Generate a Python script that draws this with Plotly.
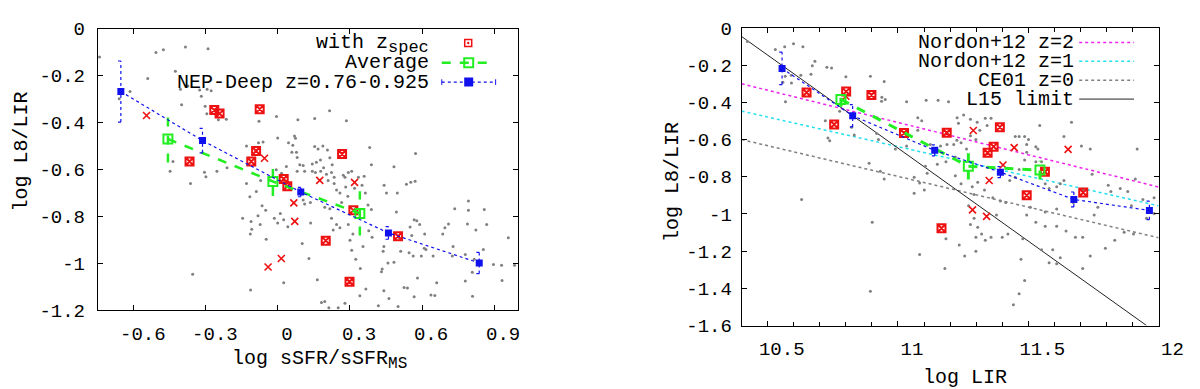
import plotly.graph_objects as go

FONT = "'Liberation Mono', 'Courier New', 'DejaVu Sans Mono', monospace"
W, H = 1200, 389

# ---- left panel: log L8/LIR vs log sSFR/sSFR_MS ----
l_xticks = [-0.6, -0.3, 0, 0.3, 0.6, 0.9]
l_xtext = ["-0.6", "-0.3", "0", "0.3", "0.6", "0.9"]
l_yticks = [0, -0.2, -0.4, -0.6, -0.8, -1.0, -1.2]
l_ytext = ["0", "-0.2", "-0.4", "-0.6", "-0.8", "-1", "-1.2"]

l_grey_x = [-0.743, -0.661, -0.616, -0.542, -0.508, -0.477, -0.427, -0.406, -0.375, -0.401,
            -0.449, -0.437, -0.364, -0.355, -0.385, -0.291, -0.326, -0.295, -0.278, -0.319,
            -0.303, -0.296, -0.248, -0.215, -0.254, -0.306, -0.300, -0.212, -0.147, -0.131,
            -0.115, -0.109, -0.114, -0.131, -0.100, -0.079, -0.062, -0.081, -0.006, -0.001,
            0.044, 0.062, 0.069, 0.073, 0.083, 0.058, 0.077, 0.080, 0.091, 0.105,
            0.111, 0.080, 0.035, 0.015, -0.007, -0.036, -0.072, -0.117, -0.090, -0.066,
            -0.051, -0.083, -0.074, -0.112, -0.049, -0.015, -0.001, 0.010, 0.024, 0.041,
            0.105, 0.111, 0.136, 0.101, 0.129, 0.024, 0.164, 0.195, 0.181, 0.135,
            0.153, 0.215, 0.285, 0.153, 0.167, 0.187, 0.206, 0.216, 0.226, 0.190,
            0.177, 0.160, 0.143, 0.143, 0.156, 0.178, 0.202, 0.209, 0.223, 0.234,
            0.234, 0.244, 0.258, 0.265, 0.272, 0.279, 0.282, 0.291, 0.293, 0.307,
            0.319, 0.335, 0.350, 0.364, 0.359, 0.195, 0.216, 0.223, 0.244, 0.230,
            0.258, 0.293, 0.312, 0.300, 0.307, 0.324, 0.343, 0.366, 0.341, 0.251,
            0.279, 0.212, 0.354, 0.378, 0.392, 0.389, 0.382, 0.389, 0.375, 0.442,
            0.452, 0.483, 0.493, 0.497, 0.535, 0.553, 0.573, 0.571, 0.504, 0.550,
            0.557, 0.567, 0.578, 0.590, 0.609, 0.616, 0.646, 0.597, 0.546, 0.563,
            0.483, 0.441, 0.438, 0.434, 0.431, 0.458, 0.525, 0.539, 0.567, 0.581,
            0.637, 0.653, 0.661, 0.686, 0.695, 0.611, 0.500, 0.418, 0.462, 0.441,
            0.511, 0.736, 0.793, 0.793, 0.859, 0.869, 0.824, 0.789, 0.710, 0.726,
            0.780, 0.855, 0.817, 0.897, 0.931, 0.959, 0.985, 0.933, 0.780, 0.809,
            0.810, 0.729]
l_grey_y = [-0.121, -0.299, -0.268, -0.212, -0.102, -0.090, -0.182, -0.258, -0.244, -0.324,
            -0.607, -0.566, -0.660, -1.046, -0.078, -0.086, -0.261, -0.258, -0.265, -0.288,
            -0.331, -0.363, -0.388, -0.386, -0.607, -0.612, -0.631, -0.593, -0.808, -0.660,
            -0.875, -0.854, -1.113, -0.500, -0.506, -0.395, -0.483, -0.486, -0.374, -0.466,
            -0.486, -0.497, -0.457, -0.467, -0.388, -0.526, -0.526, -0.549, -0.580, -0.583,
            -0.607, -0.607, -0.587, -0.616, -0.601, -0.633, -0.647, -0.716, -0.694, -0.754,
            -0.774, -0.797, -0.834, -0.821, -0.897, -0.808, -0.828, -0.787, -0.814, -0.844,
            -0.730, -0.747, -0.828, -0.915, -0.979, -1.082, -1.069, -1.162, -1.166, -0.741,
            -0.383, -0.350, -0.392, -0.502, -0.513, -0.500, -0.517, -0.550, -0.580, -0.593,
            -0.560, -0.569, -0.577, -0.607, -0.613, -0.607, -0.620, -0.647, -0.613, -0.633,
            -0.660, -0.687, -0.700, -0.741, -0.625, -0.633, -0.674, -0.714, -0.613, -0.607,
            -0.680, -0.633, -0.667, -0.700, -0.629, -0.761, -0.767, -0.808, -0.834, -0.858,
            -0.848, -0.834, -0.875, -0.901, -0.944, -0.982, -1.022, -1.109, -1.138, -1.189,
            -1.169, -1.189, -0.928, -0.861, -0.888, -0.770, -0.506, -0.580, -0.751, -0.667,
            -0.700, -0.588, -0.781, -0.700, -0.663, -0.654, -0.532, -0.650, -0.888, -0.845,
            -0.881, -0.814, -0.818, -0.834, -0.935, -0.941, -0.968, -0.968, -0.955, -0.968,
            -0.995, -0.928, -0.948, -1.024, -1.035, -0.998, -1.102, -1.105, -1.142, -1.062,
            -1.134, -1.137, -1.082, -0.875, -0.848, -0.875, -1.183, -1.180, -1.149, -1.116,
            -0.948, -0.767, -0.734, -0.774, -0.770, -0.834, -0.858, -0.832, -0.832, -0.968,
            -0.962, -0.941, -0.982, -1.004, -1.008, -0.891, -1.008, -1.073, -1.075, -1.038,
            -1.140, -0.928]

l_zspec_x = [-0.265, -0.243, -0.076, -0.368, -0.091, -0.111, 0.267, 0.024, 0.039, 0.314, 0.199, 0.500, 0.298]
l_zspec_y = [-0.347, -0.362, -0.343, -0.566, -0.521, -0.566, -0.534, -0.640, -0.671, -0.774, -0.903, -0.884, -1.078]
l_cross_x = [-0.547, -0.056, 0.174, 0.319, 0.066, 0.070, 0.014, -0.041]
l_cross_y = [-0.370, -0.552, -0.646, -0.655, -0.742, -0.821, -0.979, -1.015]

l_avg_x = [-0.458, -0.021, 0.341]
l_avg_y = [-0.470, -0.651, -0.787]
l_avg_e = [0.100, 0.062, 0.094]
l_nep_x = [-0.654, -0.314, 0.095, 0.460, 0.838]
l_nep_y = [-0.268, -0.477, -0.696, -0.870, -0.998]
l_nep_e = [0.130, 0.052, 0.020, 0.027, 0.045]

# ---- right panel: log L8/LIR vs log LIR ----
r_xticks = [10.5, 11, 11.5, 12]
r_xtext = ["10.5", "11", "11.5", "12"]
r_yticks = [0, -0.2, -0.4, -0.6, -0.8, -1.0, -1.2, -1.4, -1.6]
r_ytext = ["0", "-0.2", "-0.4", "-0.6", "-0.8", "-1", "-1.2", "-1.4", "-1.6"]

r_grey_x = [10.422, 10.529, 10.565, 10.599, 10.635, 10.671, 10.681, 10.666, 10.590, 10.567,
            10.627, 10.591, 10.558, 10.568, 10.727, 10.745, 10.800, 10.894, 10.947, 10.938,
            10.951, 10.937, 11.033, 11.108, 11.154, 11.194, 10.731, 10.738, 10.721, 10.776,
            10.822, 10.832, 10.918, 10.925, 10.990, 11.033, 11.076, 11.091, 11.076, 11.124,
            11.163, 11.188, 11.214, 11.226, 11.227, 11.252, 11.232, 11.278, 11.304, 11.335,
            11.357, 11.342, 11.314, 11.278, 11.299, 11.242, 11.263, 11.220, 11.184, 11.151,
            11.105, 11.112, 11.083, 11.101, 11.062, 11.062, 10.947, 10.889, 10.932, 11.220,
            11.242, 11.285, 11.306, 11.332, 11.364, 11.292, 11.271, 11.292, 11.278, 11.306,
            11.321, 11.299, 11.335, 11.235, 11.256, 11.083, 11.180, 11.184, 11.378, 11.393,
            11.414, 11.429, 11.450, 11.465, 11.486, 11.494, 11.450, 11.465, 11.486, 11.501,
            11.529, 11.494, 11.537, 11.544, 11.529, 11.551, 11.565, 11.580, 11.609, 11.623,
            11.637, 11.637, 11.666, 11.704, 11.738, 11.745, 11.709, 11.673, 11.609, 11.565,
            11.508, 11.494, 11.565, 11.609, 11.645, 11.681, 11.709, 11.767, 11.753, 11.807,
            11.817, 11.853, 11.882, 11.911, 11.918, 11.983, 11.983, 11.954, 11.940, 11.896,
            11.832, 11.796, 11.868, 11.904, 11.738, 11.709, 11.609, 11.580, 11.594, 11.551,
            11.479, 11.422, 11.465, 11.486, 11.443, 11.400, 11.357, 10.630, 10.901, 10.894,
            11.472, 11.623, 11.529, 11.299]
r_grey_y = [-0.073, -0.115, -0.101, -0.085, -0.101, -0.203, -0.178, -0.249, -0.254, -0.259,
            -0.254, -0.296, -0.291, -0.397, -0.211, -0.215, -0.262, -0.259, -0.288, -0.372,
            -0.384, -0.394, -0.397, -0.389, -0.389, -0.397, -0.592, -0.606, -0.499, -0.448,
            -0.533, -0.575, -0.567, -0.600, -0.651, -0.634, -0.482, -0.499, -0.550, -0.626,
            -0.634, -0.626, -0.626, -0.604, -0.482, -0.468, -0.512, -0.490, -0.507, -0.485,
            -0.485, -0.524, -0.550, -0.580, -0.600, -0.617, -0.651, -0.693, -0.719, -0.732,
            -0.744, -0.781, -0.834, -0.871, -0.888, -0.803, -0.812, -0.727, -0.770, -0.795,
            -0.837, -0.854, -0.829, -0.871, -0.913, -0.896, -0.956, -1.023, -1.057, -1.071,
            -1.108, -1.125, -1.142, -1.167, -1.226, -1.218, -1.294, -1.133, -1.006, -0.930,
            -0.939, -0.820, -0.803, -0.761, -0.710, -0.668, -0.584, -0.584, -0.584, -0.600,
            -0.638, -0.626, -0.651, -0.524, -0.719, -0.719, -0.837, -0.863, -0.854, -0.837,
            -0.820, -0.584, -0.507, -0.634, -0.651, -0.786, -0.871, -0.939, -0.973, -0.989,
            -0.964, -1.006, -1.066, -1.066, -1.091, -1.125, -1.125, -0.964, -1.006, -0.846,
            -0.879, -0.863, -0.879, -0.812, -0.651, -0.913, -0.998, -1.023, -0.922, -0.956,
            -1.142, -1.184, -1.099, -1.108, -1.226, -1.294, -1.268, -1.263, -1.192, -1.192,
            -1.133, -1.108, -1.429, -1.358, -1.488, -1.125, -1.125, -0.922, -1.044, -1.416,
            -1.243, -1.235, -1.044, -1.201]

r_zspec_x = [10.649, 10.801, 10.898, 10.755, 11.023, 11.187, 11.391, 11.367, 11.344, 11.564, 11.494, 11.711, 11.167]
r_zspec_y = [-0.347, -0.342, -0.360, -0.519, -0.565, -0.563, -0.533, -0.638, -0.671, -0.773, -0.900, -0.885, -1.077]
r_cross_x = [10.800, 11.289, 11.446, 11.653, 11.403, 11.350, 11.286, 11.340]
r_cross_y = [-0.367, -0.551, -0.643, -0.653, -0.737, -0.820, -0.978, -1.013]

r_avg_x = [10.781, 11.270, 11.545]
r_avg_y = [-0.384, -0.744, -0.764]
r_avg_e = [0.040, 0.070, 0.050]
r_nep_x = [10.555, 10.826, 11.141, 11.393, 11.675, 11.965]
r_nep_y = [-0.217, -0.472, -0.658, -0.775, -0.922, -0.981]
r_nep_e = [0.087, 0.060, 0.030, 0.030, 0.040, 0.050]

# relations drawn across the right panel
rel_x = [10.4, 12.0]
nordon2_y = [-0.300, -0.855]
nordon1_y = [-0.447, -0.956]
ce01_y = [-0.600, -1.128]
l15_x = [10.4, 11.954]
l15_y = [-0.046, -1.600]

RED = "#ee1111"
GREEN = "#22ee22"
BLUE = "#1111ee"
GREY = "#808080"

# plot frames in pixels: left, top, right, bottom
L_BOX = (91.7, 12.3, 521.0, 311.0)
R_BOX = (749.3, 11.7, 1175.0, 327.0)


def dom(box):
    l, t, r, b = box
    return [l / W, r / W], [(H - b) / H, (H - t) / H]


def bars(x, y, e, cap=0.0):
    xs, ys = [], []
    for xi, yi, ei in zip(x, y, e):
        xs += [xi, xi, None]
        ys += [yi - ei, yi + ei, None]
        if cap:
            for yy in (yi - ei, yi + ei):
                xs += [xi - cap, xi + cap, None]
                ys += [yy, yy, None]
    return xs, ys


fig = go.Figure()


def panel(xa, ya, grey_x, grey_y, zx, zy, cx, cy, ax, ay, ae, nx, ny, ne, cap, avg_w):
    fig.add_trace(go.Scatter(x=grey_x, y=grey_y, mode="markers", xaxis=xa, yaxis=ya,
                             marker=dict(size=3, color=GREY)))
    fig.add_trace(go.Scatter(x=cx, y=cy, mode="markers", xaxis=xa, yaxis=ya,
                             marker=dict(symbol="x-thin-open", size=7, color=RED,
                                         line=dict(width=1.6, color=RED))))
    fig.add_trace(go.Scatter(x=zx, y=zy, mode="markers", xaxis=xa, yaxis=ya,
                             marker=dict(symbol="square-x-open", size=8, color=RED,
                                         line=dict(width=2, color=RED))))
    ex, ey = bars(ax, ay, ae)
    fig.add_trace(go.Scatter(x=ex, y=ey, mode="lines", xaxis=xa, yaxis=ya,
                             line=dict(color=GREEN, width=avg_w, dash="dash")))
    fig.add_trace(go.Scatter(x=ax, y=ay, mode="lines+markers", xaxis=xa, yaxis=ya,
                             line=dict(color=GREEN, width=avg_w, dash="dash"),
                             marker=dict(symbol="square-open", size=9, color=GREEN,
                                         line=dict(width=2, color=GREEN))))
    ex, ey = bars(nx, ny, ne, cap)
    fig.add_trace(go.Scatter(x=ex, y=ey, mode="lines", xaxis=xa, yaxis=ya,
                             line=dict(color=BLUE, width=1.2, dash="dot")))
    fig.add_trace(go.Scatter(x=nx, y=ny, mode="lines+markers", xaxis=xa, yaxis=ya,
                             line=dict(color=BLUE, width=1.2, dash="dot"),
                             marker=dict(symbol="square", size=7, color=BLUE)))


panel("x", "y", l_grey_x, l_grey_y, l_zspec_x, l_zspec_y, l_cross_x, l_cross_y,
      l_avg_x, l_avg_y, l_avg_e, l_nep_x, l_nep_y, l_nep_e, 0.012, 2.5)

for yy, col in [(nordon2_y, "#ee22ee"), (nordon1_y, "#22e0ee"), (ce01_y, GREY)]:
    fig.add_trace(go.Scatter(x=rel_x, y=yy, mode="lines", xaxis="x2", yaxis="y2",
                             line=dict(color=col, width=1.5, dash="dot")))
fig.add_trace(go.Scatter(x=l15_x, y=l15_y, mode="lines", xaxis="x2", yaxis="y2",
                         line=dict(color="#222222", width=1)))

panel("x2", "y2", r_grey_x, r_grey_y, r_zspec_x, r_zspec_y, r_cross_x, r_cross_y,
      r_avg_x, r_avg_y, r_avg_e, r_nep_x, r_nep_y, r_nep_e, 0.011, 3)

# ---- keys, drawn on a pixel-space overlay ----
def key_line(x0, x1, y, color, width, dash, symbol=None, size=0, caps=False):
    fig.add_trace(go.Scatter(x=[x0, x1], y=[y, y], mode="lines", xaxis="x3", yaxis="y3",
                             line=dict(color=color, width=width, dash=dash)))
    if caps:
        fig.add_trace(go.Scatter(x=[x0, x0, None, x1, x1], y=[y - 3, y + 3, None, y - 3, y + 3],
                                 mode="lines", xaxis="x3", yaxis="y3",
                                 line=dict(color=color, width=1)))
    if symbol:
        fig.add_trace(go.Scatter(x=[(x0 + x1) / 2], y=[y], mode="markers", xaxis="x3", yaxis="y3",
                                 marker=dict(symbol=symbol, size=size, color=color,
                                             line=dict(width=2, color=color))))


fig.add_trace(go.Scatter(x=[470], y=[27.5], mode="markers", xaxis="x3", yaxis="y3",
                         marker=dict(symbol="square-open-dot", size=7, color=RED,
                                     line=dict(width=1.5, color=RED))))
key_line(443, 498, 48.5, GREEN, 2.5, "dash", "square-open", 9)
key_line(443, 498, 69, BLUE, 1.2, "dot", "square", 7, caps=True)

key_line(1094, 1150, 27, "#ee22ee", 1.5, "dot")
key_line(1094, 1150, 47, "#22e0ee", 1.5, "dot")
key_line(1094, 1150, 67, GREY, 1.5, "dot")
key_line(1094, 1150, 87, "#222222", 1, "solid")

ann = []
def text(x, y, s, anchor="right", angle=0, size=20):
    ann.append(dict(x=x, y=y, xref="x3", yref="y3", text=s, showarrow=False,
                    xanchor=anchor, yanchor="middle", textangle=angle,
                    font=dict(family=FONT, size=size, color="black")))


text(432, 29, 'with z<sub><span style="font-size:17px">spec</span></sub>')
text(432, 48.5, "Average")
text(432, 69, "NEP-Deep z=0.76-0.925")
text(1091, 27, "Nordon+12 z=2")
text(1091, 47, "Nordon+12 z=1")
text(1091, 67, "CE01 z=0")
text(1091, 87, "L15 limit")

text(14, 143, "log L8/LIR", "center", -90)
text(678, 175, "log L8/LIR", "center", -90)
text(318, 364, 'log sSFR/sSFR<sub><span style="font-size:16px">MS</span></sub>', "center")
text(977, 382, "log LIR", "center")

common = dict(showline=True, linecolor="black", linewidth=1, mirror="ticks", ticks="inside",
              ticklen=5, tickcolor="black", tickwidth=1, showgrid=False, zeroline=False,
              tickfont=dict(family=FONT, size=19, color="black"))

lxd, lyd = dom(L_BOX)
rxd, ryd = dom(R_BOX)

fig.update_layout(
    width=W, height=H, margin=dict(l=0, r=0, t=0, b=0),
    paper_bgcolor="white", plot_bgcolor="rgba(0,0,0,0)", showlegend=False,
    font=dict(family=FONT, color="black"),
    xaxis=dict(domain=lxd, range=[-0.75, 1.0], anchor="y", tickvals=l_xticks, ticktext=l_xtext,
               ticklabelshift=9, ticklabelstandoff=6, **common),
    yaxis=dict(domain=lyd, range=[-1.2, 0], anchor="x", tickvals=l_yticks, ticktext=l_ytext,
               ticklabelstandoff=8, **common),
    xaxis2=dict(domain=rxd, range=[10.4, 12.0], anchor="y2", tickvals=r_xticks, ticktext=r_xtext,
                ticklabelshift=14, ticklabelstandoff=6,
                minor=dict(dtick=0.1, tick0=10.4, ticks="inside", ticklen=4, tickcolor="black",
                           showgrid=False),
                **common),
    yaxis2=dict(domain=ryd, range=[-1.6, 0], anchor="x2", tickvals=r_yticks, ticktext=r_ytext,
                ticklabelstandoff=5, **common),
    xaxis3=dict(domain=[0, 1], range=[0, W], visible=False, anchor="y3"),
    yaxis3=dict(domain=[0, 1], range=[H, 0], visible=False, anchor="x3"),
    annotations=ann,
)

fig.write_html("out.html")
